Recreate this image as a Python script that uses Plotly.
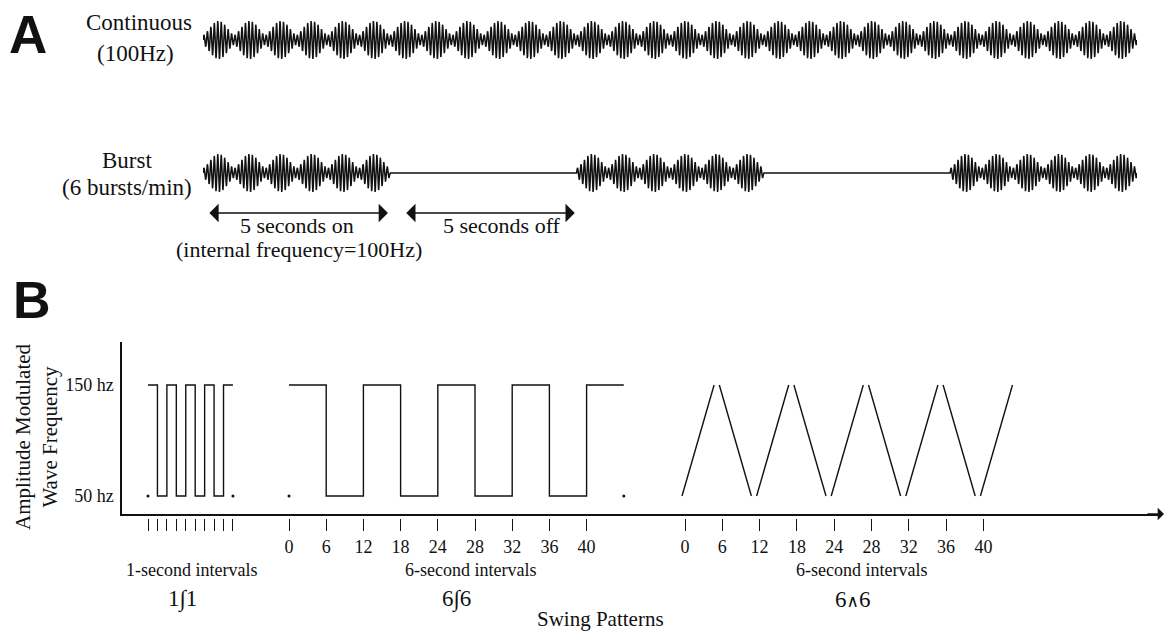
import numpy as np
import plotly.graph_objects as go

W, H = 1165, 632
SERIF = "Liberation Serif, Times New Roman, serif"
SANS = "Liberation Sans, Arial, sans-serif"
INK = "#111111"

# ---------------- Panel A data ----------------
total_seconds = 25.0
burst_windows = [[0, 5], [10, 15], [20, 25]]      # seconds when stimulation is on
lobes_per_second = 1.2                             # 6 amplitude lobes per 5 s
carrier_cycles_per_lobe = 9
envelope_floor = 0.25
arrow_spans = [[0, 5], [5, 10]]
arrow_texts = ["5 seconds on", "5 seconds off"]

# ---------------- Panel B data ----------------
y_tick_values = [50, 150]
y_tick_labels = ["50 hz", "150 hz"]
sq11_levels = [150, 50, 150, 50, 150, 50, 150, 50, 150]
sq11_tick_count = 10
sq66_levels = [150, 50, 150, 50, 150, 50, 150, 50, 150]
sq66_tick_labels = ["0", "6", "12", "18", "24", "28", "32", "36", "40"]
tri66_from = [50, 150, 50, 150, 50, 150, 50, 150, 50]
tri66_to = [150, 50, 150, 50, 150, 50, 150, 50, 150]
tri66_tick_labels = ["0", "6", "12", "18", "24", "28", "32", "36", "40"]
pattern_names = ["1\u222b1", "6\u222b6",
                 "6<span style='font-family:DejaVu Serif;font-size:17px'>\u2227</span>6"]
interval_names = ["1-second intervals", "6-second intervals", "6-second intervals"]


def px(x):
    return x / W


def py(y):
    return 1 - y / H


def sub_axis(tick0_px, step_px, left_px, right_px):
    return dict(domain=[px(left_px), px(right_px)],
                range=[(left_px - tick0_px) / step_px, (right_px - tick0_px) / step_px])


# ---------------- waveforms ----------------
carrier_hz = lobes_per_second * carrier_cycles_per_lobe
n_pts = int(total_seconds * carrier_hz * 12) + 1
t = np.linspace(0, total_seconds, n_pts)
env = envelope_floor + (1 - envelope_floor) * np.abs(np.sin(np.pi * lobes_per_second * t)) ** 1.5
continuous = env * np.sin(2 * np.pi * carrier_hz * t)
gate = np.zeros_like(t)
for a, b in burst_windows:
    gate[(t >= a) & (t <= b)] = 1.0
burst = continuous * gate

fig = go.Figure()
fig.add_trace(go.Scatter(x=t, y=continuous, mode="lines", xaxis="x", yaxis="y",
                         line=dict(color=INK, width=1.5), hoverinfo="skip", showlegend=False))
fig.add_trace(go.Scatter(x=t, y=burst, mode="lines", xaxis="x", yaxis="y2",
                         line=dict(color=INK, width=1.5), hoverinfo="skip", showlegend=False))

# invisible anchor trace so the panel-B frame subplot exists
fig.add_trace(go.Scatter(x=[0.5], y=[100], mode="markers", xaxis="x3", yaxis="y3",
                         marker=dict(opacity=0), hoverinfo="skip", showlegend=False))


def step_path(levels):
    xs, ys = [], []
    for k, lv in enumerate(levels):
        xs += [k, k + 1]
        ys += [lv, lv]
    return xs, ys


for levels, xa in [(sq11_levels, "x4"), (sq66_levels, "x5")]:
    xs, ys = step_path(levels)
    fig.add_trace(go.Scatter(x=xs, y=ys, mode="lines", xaxis=xa, yaxis="y3",
                             line=dict(color=INK, width=1.4), hoverinfo="skip", showlegend=False))
    fig.add_trace(go.Scatter(x=[0, len(levels)], y=[min(levels), min(levels)], mode="markers",
                             xaxis=xa, yaxis="y3", marker=dict(color=INK, size=3),
                             hoverinfo="skip", showlegend=False, cliponaxis=False))

tx, ty = [], []
for k, (a, b) in enumerate(zip(tri66_from, tri66_to)):
    tx += [k - 0.08, k + 0.78, None]
    ty += [a, b, None]
fig.add_trace(go.Scatter(x=tx, y=ty, mode="lines", xaxis="x6", yaxis="y3",
                         line=dict(color=INK, width=1.4), hoverinfo="skip", showlegend=False))

# ---------------- layout ----------------
A_px_per_unit = 19.0
cont_center, burst_center = 40, 173
hidden = dict(visible=False, showgrid=False, zeroline=False)

sub_tick_common = dict(anchor="free", position=py(518), side="bottom", showline=False,
                       showgrid=False, zeroline=False, ticks="outside", ticklen=12,
                       tickwidth=1.3, tickcolor=INK,
                       tickfont=dict(family=SERIF, size=18, color=INK))

x4 = sub_axis(148, 9.44, 140, 242)
x5 = sub_axis(289, 37.2, 280, 634)
x6 = sub_axis(685, 37.3, 670, 1030)

layout = dict(
    width=W, height=H, margin=dict(l=0, r=0, t=0, b=0),
    paper_bgcolor="white", plot_bgcolor="rgba(0,0,0,0)", showlegend=False,
    xaxis=dict(domain=[px(203), px(1137)], range=[0, total_seconds], anchor="y", **hidden),
    yaxis=dict(domain=[py(70), py(10)], anchor="x",
               range=[-(70 - cont_center) / A_px_per_unit, (cont_center - 10) / A_px_per_unit], **hidden),
    yaxis2=dict(domain=[py(235), py(140)], anchor="x",
                range=[-(235 - burst_center) / A_px_per_unit, (burst_center - 140) / A_px_per_unit], **hidden),
    xaxis3=dict(domain=[px(122), px(1160)], range=[0, 1], anchor="y3", showline=True,
                linecolor=INK, linewidth=1.5, showticklabels=False, ticks="",
                showgrid=False, zeroline=False),
    yaxis3=dict(domain=[py(514), py(342)], anchor="x3",
                range=[50 - (514 - 496) / 1.11, 150 + (385 - 342) / 1.11],
                showline=True, linecolor=INK, linewidth=1.5, showgrid=False, zeroline=False,
                tickvals=y_tick_values, ticktext=y_tick_labels, ticks="outside", ticklen=3,
                tickcolor="rgba(0,0,0,0)", tickfont=dict(family=SERIF, size=18, color=INK)),
    xaxis4=dict(domain=x4["domain"], range=x4["range"], tickvals=list(range(sq11_tick_count)),
                showticklabels=False, **sub_tick_common),
    xaxis5=dict(domain=x5["domain"], range=x5["range"], tickvals=list(range(len(sq66_tick_labels))),
                ticktext=sq66_tick_labels, **sub_tick_common),
    xaxis6=dict(domain=x6["domain"], range=x6["range"], tickvals=list(range(len(tri66_tick_labels))),
                ticktext=tri66_tick_labels, **sub_tick_common),
)
fig.update_layout(**layout)

ann = []


def text(x, y, s, size, family=SERIF, **kw):
    d = dict(x=px(x), y=py(y), xref="paper", yref="paper", text=s, showarrow=False,
             xanchor="center", yanchor="middle", font=dict(family=family, size=size, color=INK))
    d.update(kw)
    ann.append(d)


# Panel letters
text(28, 35, "<b>A</b>", 53, family=SANS)
text(32, 300, "<b>B</b>", 52, family=SANS)

# Panel A labels
text(139, 23, "Continuous", 23)
text(135, 53, "(100Hz)", 23)
text(127, 160, "Burst", 23)
text(127, 187, "(6 bursts/min)", 23)
arrow_y = -(213 - burst_center) / A_px_per_unit
arrow_insets = [[0.13, 0.05], [0.4, 0.05]]
label_x = [297, 502]
for (a, b), (i0, i1), s, lx in zip(arrow_spans, arrow_insets, arrow_texts, label_x):
    ann.append(dict(x=b - i1, y=arrow_y, ax=a + i0, ay=arrow_y, xref="x", yref="y2",
                    axref="x", ayref="y2", text="", showarrow=True, arrowhead=1,
                    startarrowhead=1, arrowside="end+start", arrowsize=2.2,
                    startarrowsize=2.2, arrowwidth=1.4, arrowcolor=INK,
                    standoff=0, startstandoff=0))
    text(lx, 225, s, 22)
text(299, 249, "(internal frequency=100Hz)", 22)

# Panel B labels
text(36, 437, "Amplitude Modulated<br>Wave Frequency", 21, textangle=-90)
for cx, s in zip([191, 470, 861], interval_names):
    text(cx, 570, s, 18)
for cx, s in zip([182, 456, 852], pattern_names):
    text(cx, 599, s, 23)
text(600, 619, "Swing Patterns", 21)

# Axis arrowhead at the end of the x line
ann.append(dict(x=px(1164), y=py(514), xref="paper", yref="paper", ax=-18, ay=0,
                axref="pixel", ayref="pixel", text="", showarrow=True, arrowhead=1,
                arrowsize=1.4, arrowwidth=1.5, arrowcolor=INK, standoff=0))

fig.update_layout(annotations=ann)
fig.write_html("out.html", config={"displayModeBar": False},
               post_script="document.body.style.margin='0';")
